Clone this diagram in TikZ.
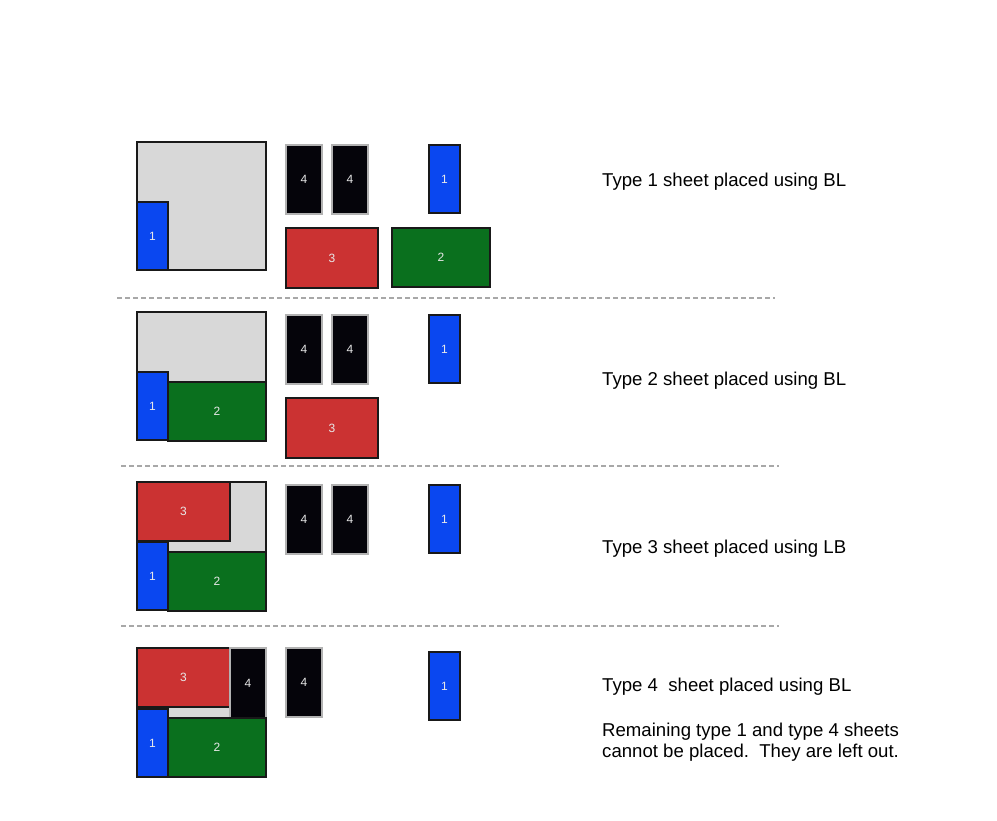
\documentclass[tikz,border=0pt]{standalone}
\usepackage{fontspec}
\setmainfont{Liberation Sans}
\definecolor{sheetgrey}{HTML}{D8D8D8}
\definecolor{pblue}{HTML}{0A47F0}
\definecolor{pblack}{HTML}{05040A}
\definecolor{pred}{HTML}{CB3232}
\definecolor{pgreen}{HTML}{0A701E}
\definecolor{sepgrey}{HTML}{A8A8A8}
\definecolor{lbl}{HTML}{E8E8E8}
\begin{document}
\begin{tikzpicture}[x=1pt,y=-1pt,
  piece/.style={draw=black!90, line width=1.1pt, inner sep=0pt, outer sep=0pt, anchor=north west,
    text=lbl, font=\fontsize{12}{14}\selectfont},
  sheet/.style={piece, fill=sheetgrey, minimum width=129pt, minimum height=128pt},
  t1/.style={piece, fill=pblue, minimum width=31pt, minimum height=68pt},
  t2/.style={piece, fill=pgreen, minimum width=98pt, minimum height=59pt},
  t3/.style={piece, fill=pred, minimum width=92pt, minimum height=60pt},
  t3s/.style={piece, fill=pred, minimum width=93pt, minimum height=59pt},
  t4/.style={piece, fill=pblack, draw=gray!60, minimum width=36pt, minimum height=69pt},
  sep/.style={draw=sepgrey, line width=1.4pt, dash pattern=on 5pt off 3pt},
  caption/.style={anchor=west, inner sep=0pt, font=\fontsize{18.6}{22}\selectfont}]
\useasboundingbox (0,0) rectangle (997,821);

% ---------- Panel 1 ----------
\node[sheet] (s1) at (137,142) {};
\node[t1] (s1p1) at (137,202) {1};
\node[t4] (a1q4a) at (286,145) {4};
\node[t4] (a1q4b) at (332,145) {4};
\node[t1] (a1q1) at (429,145) {1};
\node[t3] (a1q3) at (286,228) {3};
\node[t2] (a1q2) at (392,228) {2};
\node[caption] (c1) at (602,182) {Type 1 sheet placed using BL};
\coordinate (d1a) at (117,298); \coordinate (d1b) at (775,298);
\draw[sep] (d1a) -- (d1b);

% ---------- Panel 2 ----------
\node[sheet] (s2) at (137,312) {};
\node[t1] (s2p1) at (137,372) {1};
\node[t2] (s2p2) at (168,382) {2};
\node[t4] (a2q4a) at (286,315) {4};
\node[t4] (a2q4b) at (332,315) {4};
\node[t1] (a2q1) at (429,315) {1};
\node[t3] (a2q3) at (286,398) {3};
\node[caption] (c2) at (602,381) {Type 2 sheet placed using BL};
\coordinate (d2a) at (121,466); \coordinate (d2b) at (779,466);
\draw[sep] (d2a) -- (d2b);

% ---------- Panel 3 ----------
\node[sheet] (s3) at (137,482) {};
\node[t3s] (s3p3) at (137,482) {3};
\node[t1] (s3p1) at (137,542) {1};
\node[t2] (s3p2) at (168,552) {2};
\node[t4] (a3q4a) at (286,485) {4};
\node[t4] (a3q4b) at (332,485) {4};
\node[t1] (a3q1) at (429,485) {1};
\node[caption] (c3) at (602,549) {Type 3 sheet placed using LB};
\coordinate (d3a) at (121,626); \coordinate (d3b) at (779,626);
\draw[sep] (d3a) -- (d3b);

% ---------- Panel 4 ----------
\node[sheet] (s4) at (137,648) {};
\node[t3s] (s4p3) at (137,648) {3};
\node[t4, minimum width=36pt, minimum height=70pt] (s4p4) at (230,648) {4};
\node[t1] (s4p1) at (137,709) {1};
\node[t2] (s4p2) at (168,718) {2};
\node[t4] (a4q4) at (286,648) {4};
\node[t1] (a4q1) at (429,652) {1};
\node[caption] (c4) at (602,687) {Type 4\ \ sheet placed using BL};
\node[caption] (c5) at (602,732) {Remaining type 1 and type 4 sheets};
\node[caption] (c6) at (602,753) {cannot be placed.\ \ They are left out.};
\end{tikzpicture}
\end{document}
